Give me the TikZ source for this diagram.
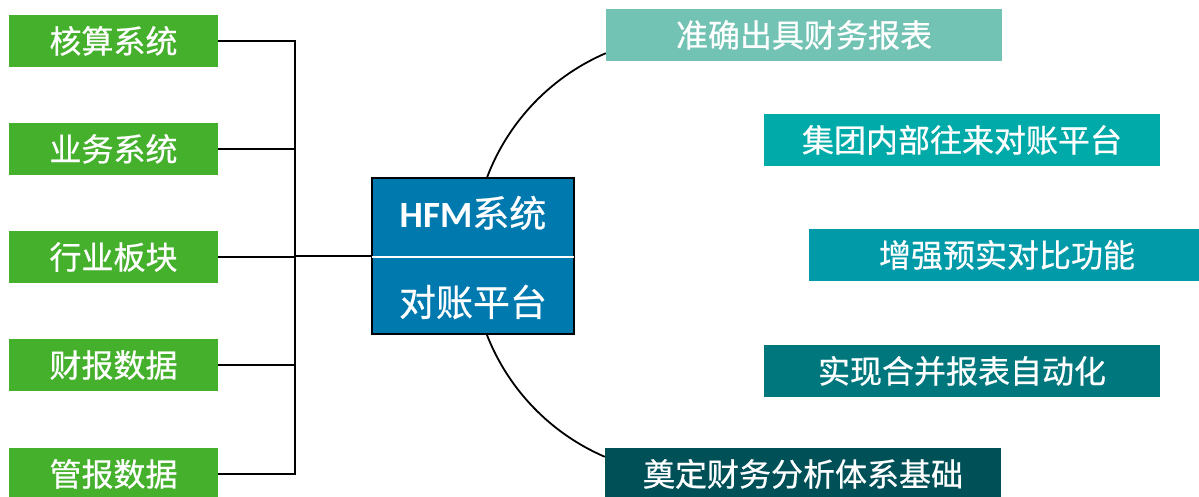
\documentclass[tikz,border=0pt]{standalone}
\usepackage{fontspec}
\newfontfamily\cjk{Noto Sans CJK SC}[FakeBold=0.6]
\newfontfamily\lat{Carlito}
\usetikzlibrary{calc}
\definecolor{cgreen}{HTML}{45B02C}
\definecolor{cblue}{HTML}{007AAE}
\definecolor{cr1}{HTML}{72C3B4}
\definecolor{cr2}{HTML}{00AAA8}
\definecolor{cr3}{HTML}{009AA8}
\definecolor{cr4}{HTML}{00777D}
\definecolor{cr5}{HTML}{005058}
\begin{document}
\begin{tikzpicture}[x=1pt,y=1pt,
  gbox/.style={fill=cgreen, minimum width=209pt, minimum height=52pt, inner sep=0pt,
    text=white, font=\cjk\fontsize{32}{32}\selectfont, text height=25.6pt, text depth=1.3pt},
  rbox/.style={minimum width=396pt, minimum height=52pt, inner sep=0pt,
    text=white, font=\cjk\fontsize{32}{32}\selectfont, text height=25.6pt, text depth=1.3pt},
  ctext/.style={inner sep=0pt, text=white, font=\cjk\fontsize{37}{37}\selectfont, text height=29.6pt, text depth=1.5pt},
  link/.style={black, line width=2pt}
]
\clip (0,0) rectangle (1199,497);
\fill[white] (0,0) rectangle (1199,497);
% left boxes
\node[gbox] (g1) at (113.5,456) {核算系统};
\node[gbox] (g2) at (113.5,348) {业务系统};
\node[gbox] (g3) at (113.5,240) {行业板块};
\node[gbox] (g4) at (113.5,132) {财报数据};
\node[gbox] (g5) at (113.5,23) {管报数据};
% right boxes
\node[rbox, fill=cr1] (r1) at (804,462) {准确出具财务报表};
\node[rbox, fill=cr2] (r2) at (962,357) {集团内部往来对账平台};
\node[rbox, fill=cr3] (r3) at (1007,242) {增强预实对比功能};
\node[rbox, fill=cr4] (r4) at (962,126) {实现合并报表自动化};
\node[rbox, fill=cr5] (r5) at (803,23) {奠定财务分析体系基础};
% arcs
\coordinate (a1) at ($(r1.south west)+(0,8)$);
\coordinate (a5) at ($(r5.north west)+(0,-9)$);
\draw[black, line width=1.8pt] (a1) arc[start angle=113.3, end angle=162, radius=220pt];
\draw[black, line width=1.8pt] (a5) arc[start angle=246.7, end angle=198, radius=220pt];
% center box
\node[draw=black, line width=2pt, fill=cblue, minimum width=202pt, minimum height=156pt, inner sep=0pt] (hfm) at (473,241) {};
\draw[white, line width=1.5pt] ($(hfm.west)+(1,-1)$) -- ($(hfm.east)+(-1,-1)$);
\node[ctext] (t1) at (473,284) {{\lat\bfseries HFM}系统};
\node[ctext] (t2) at (473,195) {对账平台};
% bus
\coordinate (bx) at (295,0);
\draw[link] (g1.east) -- (g1.east -| bx) -- (g5.east -| bx) -- (g5.east);
\draw[link] (g2.east) -- (g2.east -| bx);
\draw[link] (g3.east) -- (g3.east -| bx);
\draw[link] (g4.east) -- (g4.east -| bx);
\draw[link] (bx |- hfm.west) -- (hfm.west);
\end{tikzpicture}
\end{document}
